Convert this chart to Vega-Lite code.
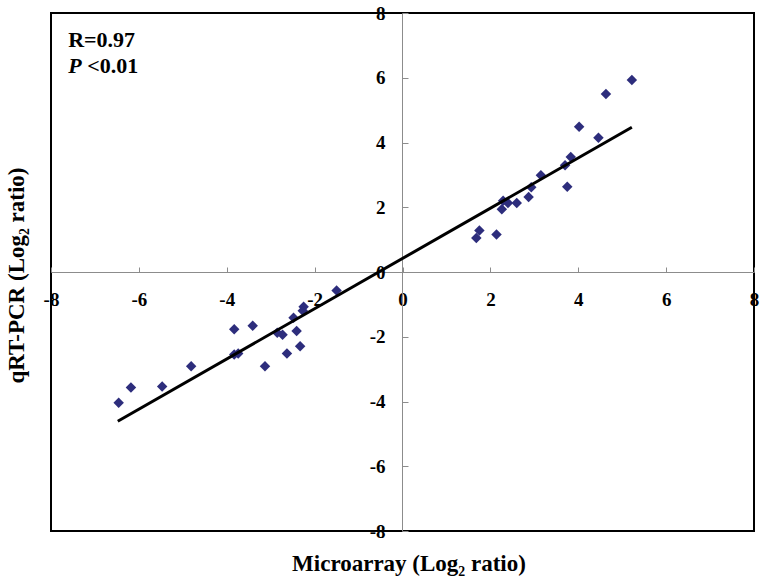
{
  "$schema": "https://vega.github.io/schema/vega-lite/v6.json",
  "width": 703,
  "height": 518,
  "autosize": {"type": "none"},
  "padding": {"left": 51, "top": 13, "right": 11, "bottom": 53},
  "background": "white",
  "config": {
    "view": {"stroke": "black", "strokeWidth": 2},
    "font": "Liberation Serif"
  },
  "datasets": {
    "points": [
      {"microarray": 1.68, "qrtpcr": 1.05},
      {"microarray": 1.75, "qrtpcr": 1.28},
      {"microarray": 2.14, "qrtpcr": 1.16},
      {"microarray": 2.26, "qrtpcr": 1.94},
      {"microarray": 2.29, "qrtpcr": 2.2},
      {"microarray": 2.4, "qrtpcr": 2.13},
      {"microarray": 2.6, "qrtpcr": 2.13},
      {"microarray": 2.87, "qrtpcr": 2.32},
      {"microarray": 2.93, "qrtpcr": 2.62},
      {"microarray": 3.15, "qrtpcr": 2.99},
      {"microarray": 3.7, "qrtpcr": 3.3},
      {"microarray": 3.75, "qrtpcr": 2.63},
      {"microarray": 3.83, "qrtpcr": 3.55},
      {"microarray": 4.02, "qrtpcr": 4.49},
      {"microarray": 4.46, "qrtpcr": 4.15},
      {"microarray": 4.63, "qrtpcr": 5.5},
      {"microarray": 5.22, "qrtpcr": 5.93},
      {"microarray": -6.46, "qrtpcr": -4.04},
      {"microarray": -6.18, "qrtpcr": -3.57},
      {"microarray": -5.47, "qrtpcr": -3.54},
      {"microarray": -4.81, "qrtpcr": -2.91},
      {"microarray": -3.83, "qrtpcr": -1.77},
      {"microarray": -3.83, "qrtpcr": -2.55},
      {"microarray": -3.74, "qrtpcr": -2.52},
      {"microarray": -3.41, "qrtpcr": -1.66},
      {"microarray": -3.13, "qrtpcr": -2.91},
      {"microarray": -2.85, "qrtpcr": -1.88},
      {"microarray": -2.73, "qrtpcr": -1.94},
      {"microarray": -2.63, "qrtpcr": -2.52},
      {"microarray": -2.48, "qrtpcr": -1.41},
      {"microarray": -2.41, "qrtpcr": -1.82},
      {"microarray": -2.33, "qrtpcr": -2.29},
      {"microarray": -2.25, "qrtpcr": -1.07},
      {"microarray": -2.27, "qrtpcr": -1.2},
      {"microarray": -1.5, "qrtpcr": -0.57}
    ],
    "fit": [
      {"microarray": -6.48, "qrtpcr": -4.61},
      {"microarray": 5.22, "qrtpcr": 4.47}
    ],
    "stat_plain": [
      {"microarray": -7.61, "qrtpcr": 6.955, "label": "R=0.97"},
      {"microarray": -7.175, "qrtpcr": 6.15, "label": "<0.01"}
    ],
    "stat_italic": [
      {"microarray": -7.61, "qrtpcr": 6.15, "label": "P"}
    ]
  },
  "layer": [
    {
      "data": {"name": "points"},
      "mark": {"type": "point", "shape": "diamond", "filled": true, "size": 110, "color": "#2D2D7C", "opacity": 1},
      "encoding": {
        "x": {
          "field": "microarray", "type": "quantitative",
          "scale": {"domain": [-8, 8], "nice": false, "zero": false},
          "axis": {
            "title": "Microarray (Log₂ ratio)",
            "values": [-8, -6, -4, -2, 0, 2, 4, 6, 8],
            "labelExpr": "'' + datum.value",
            "offset": -259,
            "grid": false,
            "domainColor": "#8c8c8c", "domainWidth": 1,
            "tickColor": "#8c8c8c", "tickWidth": 1, "tickSize": -5,
            "labelPadding": 23,
            "labelFont": "Liberation Serif", "labelFontWeight": 700, "labelFontSize": 19, "labelColor": "black",
            "labelFlush": false, "labelOverlap": false, "labelBound": false,
            "titleFont": "Liberation Serif", "titleFontWeight": "bold", "titleFontSize": 23, "titleColor": "black",
            "titleX": 357.5, "titleY": 298.7, "titleBaseline": "alphabetic", "titleAlign": "center"
          }
        },
        "y": {
          "field": "qrtpcr", "type": "quantitative",
          "scale": {"domain": [-8, 8], "nice": false, "zero": false},
          "axis": {
            "title": "qRT-PCR (Log₂ ratio)",
            "values": [-8, -6, -4, -2, 0, 2, 4, 6, 8],
            "labelExpr": "'' + datum.value",
            "offset": -351,
            "grid": false,
            "domainColor": "#8c8c8c", "domainWidth": 1,
            "tickColor": "#8c8c8c", "tickWidth": 1, "tickSize": -6,
            "labelPadding": 23,
            "labelFont": "Liberation Serif", "labelFontWeight": 700, "labelFontSize": 19, "labelColor": "black",
            "labelFlush": false, "labelOverlap": false, "labelBound": false,
            "titleFont": "Liberation Serif", "titleFontWeight": "bold", "titleFontSize": 23, "titleColor": "black",
            "titleAngle": -90, "titleX": -379, "titleY": 262, "titleBaseline": "alphabetic", "titleAlign": "center"
          }
        }
      }
    },
    {
      "data": {"name": "fit"},
      "mark": {"type": "line", "color": "black", "strokeWidth": 3},
      "encoding": {
        "x": {"field": "microarray", "type": "quantitative"},
        "y": {"field": "qrtpcr", "type": "quantitative"}
      }
    },
    {
      "data": {"name": "stat_plain"},
      "mark": {"type": "text", "align": "left", "baseline": "alphabetic", "font": "Liberation Serif", "fontWeight": "bold", "fontSize": 22, "color": "black"},
      "encoding": {
        "x": {"field": "microarray", "type": "quantitative"},
        "y": {"field": "qrtpcr", "type": "quantitative"},
        "text": {"field": "label"}
      }
    },
    {
      "data": {"name": "stat_italic"},
      "mark": {"type": "text", "align": "left", "baseline": "alphabetic", "font": "Liberation Serif", "fontWeight": "bold", "fontStyle": "italic", "fontSize": 22, "color": "black"},
      "encoding": {
        "x": {"field": "microarray", "type": "quantitative"},
        "y": {"field": "qrtpcr", "type": "quantitative"},
        "text": {"field": "label"}
      }
    }
  ]
}
